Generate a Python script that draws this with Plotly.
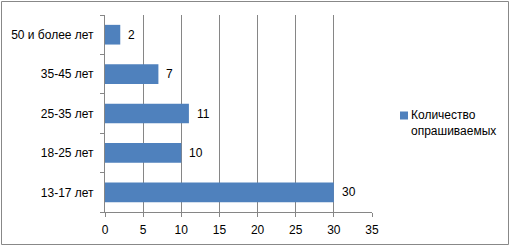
import plotly.graph_objects as go

categories = ["13-17 лет", "18-25 лет", "25-35 лет", "35-45 лет", "50 и более лет"]
values = [30, 10, 11, 7, 2]
series_name = "Количество<br>опрашиваемых"
x_ticks = [0, 5, 10, 15, 20, 25, 30, 35]

W, H = 512, 246
ML, MR, MT, MB = 105, 140, 15, 34
pw = W - ML - MR
ph = H - MT - MB

def px_to_paper_x(px):
    return (px - ML) / pw

def px_to_paper_y(py):
    return (H - MB - py) / ph

FONT = "Liberation Sans, Arial, sans-serif"
GRID = "#868686"
BAR = "#4F81BD"
FS = 12

fig = go.Figure()
fig.add_trace(go.Bar(
    x=values, y=categories, orientation="h", name=series_name,
    marker=dict(color=BAR, line=dict(width=0)),
    width=0.5, showlegend=False,
))

for v, c in zip(values, categories):
    fig.add_annotation(x=v, y=c, text=str(v), showarrow=False,
                       xanchor="left", xshift=6, yshift=0,
                       font=dict(family=FONT, size=FS, color="#000"))

# outer chart border
fig.add_shape(type="rect", xref="paper", yref="paper",
              x0=px_to_paper_x(1.5), x1=px_to_paper_x(508.5),
              y0=px_to_paper_y(244.5), y1=px_to_paper_y(1.5),
              line=dict(color="#888888", width=1), layer="below")

# legend (key square + series name)
fig.add_shape(type="rect", xref="paper", yref="paper",
              x0=px_to_paper_x(400), x1=px_to_paper_x(408),
              y0=px_to_paper_y(119.5), y1=px_to_paper_y(111.5),
              line=dict(width=0), fillcolor=BAR)
fig.add_annotation(xref="paper", yref="paper",
                   x=px_to_paper_x(409), y=px_to_paper_y(106),
                   xanchor="left", yanchor="top", align="left", showarrow=False,
                   text=series_name, font=dict(family=FONT, size=FS, color="#000"))

fig.update_layout(
    width=W, height=H,
    margin=dict(l=ML, r=MR, t=MT, b=MB, autoexpand=False),
    paper_bgcolor="white", plot_bgcolor="white",
    font=dict(family=FONT, size=FS, color="#000"),
    showlegend=False,
    xaxis=dict(range=[0, 35], tickvals=x_ticks, showgrid=True, gridcolor=GRID, gridwidth=1,
               showline=True, linecolor=GRID, linewidth=1, ticks="outside", ticklen=4,
               tickcolor=GRID, zeroline=False, fixedrange=True, ticklabelstandoff=3,
               automargin=False),
    yaxis=dict(categoryorder="array", categoryarray=categories, showgrid=False,
               showline=True, linecolor=GRID, linewidth=1, ticks="outside", ticklen=4,
               tickcolor=GRID, tickson="boundaries", ticklabelstandoff=8, zeroline=False,
               automargin=False),
)

fig.write_html("out.html")
